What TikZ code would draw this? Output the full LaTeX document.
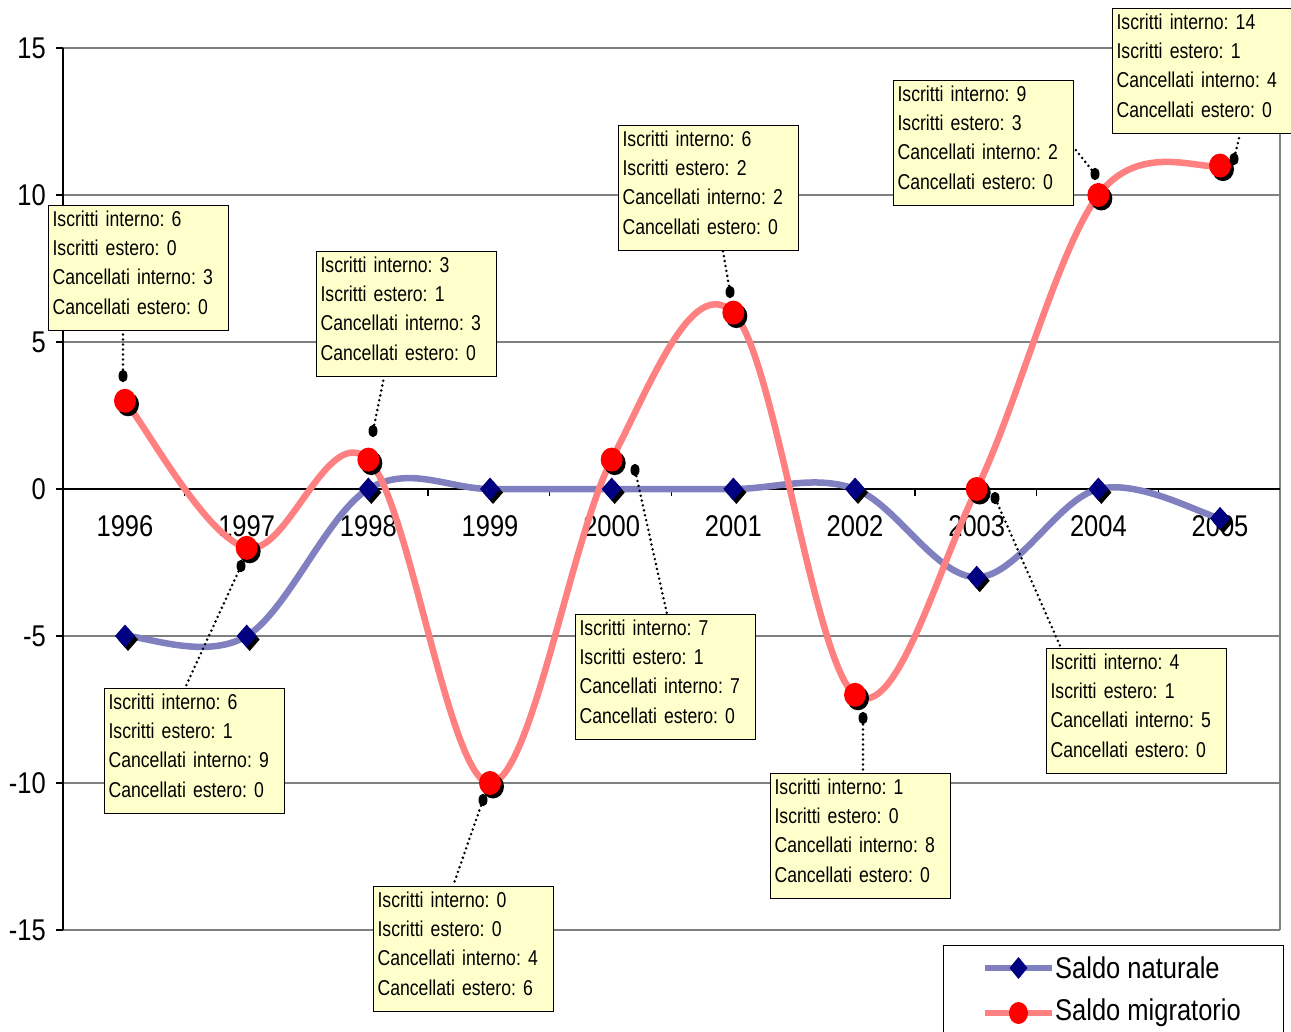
\documentclass[tikz,border=0pt]{standalone}
\usepackage{fontspec}
\setmainfont[FakeStretch=0.85]{Liberation Sans}
\newfontfamily\boxfam[FakeStretch=0.82]{Liberation Sans}
\usetikzlibrary{shapes.geometric,calc}
\definecolor{serblue}{RGB}{128,128,192}
\definecolor{serred}{RGB}{255,128,128}
\definecolor{navymark}{RGB}{0,0,128}
\definecolor{boxyellow}{RGB}{255,255,204}
\definecolor{gridgray}{RGB}{128,128,128}
\newcommand\diamk[1]{%
  \fill[black] ($(#1)+(3pt,-3.5pt)$) +(-10pt,0) -- +(0,11.5pt) -- +(10pt,0) -- +(0,-11.5pt) -- cycle;
  \fill[navymark] (#1) +(-10pt,0) -- +(0,11.5pt) -- +(10pt,0) -- +(0,-11.5pt) -- cycle;}
\newcommand\circmk[1]{%
  \fill[black] ($(#1)+(3pt,-3.5pt)$) ellipse [x radius=11pt, y radius=12pt];
  \fill[red] (#1) ellipse [x radius=11pt, y radius=12pt];}
\newcommand\lastline{\rule[-11pt]{0pt}{11pt}}
\tikzset{
  lab/.style={draw=black, line width=1.1pt, fill=boxyellow, anchor=north west,
    text width=172pt, inner xsep=4pt, inner ysep=0pt, minimum height=125pt, align=left,
    font=\boxfam\fontsize{21.5}{29.3}\selectfont\frenchspacing},
  leaderdot/.style={ellipse, fill=black, minimum width=9pt, minimum height=12.5pt, inner sep=0pt},
  leader/.style={black, line width=2.8pt, line cap=round, dash pattern=on 0pt off 5pt},
  axlab/.style={font=\fontsize{30}{34}\selectfont, inner sep=0pt},
  leglab/.style={font=\fontsize{30}{34}\selectfont, inner sep=0pt, anchor=west},
  gridline/.style={gridgray, line width=1.3pt},
  axisline/.style={black, line width=1.3pt},
  serline/.style={line width=6.5pt}
}
\begin{document}
\begin{tikzpicture}[x=1pt,y=-1pt]
\clip (0,0) rectangle (1291,1032);
\useasboundingbox (0,0) rectangle (1291,1032);
\fill[white] (0,0) rectangle (1291,1032);
% grid and frame
\foreach \yy in {48,195,342,636,783,930} \draw[gridline] (63,\yy) -- (1280,\yy);
\draw[gridline] (1280,48) -- (1280,930);
\foreach \yy in {48,195,342,489,636,783,930} \draw[axisline] (56,\yy) -- (63,\yy);
\draw[axisline] (63,48) -- (63,930);
\draw[axisline] (63,489) -- (1280,489);
\foreach \k in {1,...,9} \draw[axisline] ({63+121.7*\k},489) -- ++(0,7);
% y labels
\node[axlab, anchor=east] (y15) at (46,48) {15};
\node[axlab, anchor=east] (y10) at (46,195) {10};
\node[axlab, anchor=east] (y5) at (46,342) {5};
\node[axlab, anchor=east] (y0) at (46,489) {0};
\node[axlab, anchor=east] (ym5) at (46,636) {-5};
\node[axlab, anchor=east] (ym10) at (46,783) {-10};
\node[axlab, anchor=east] (ym15) at (46,930) {-15};
% x labels
\foreach \yr [count=\i from 0] in {1996,...,2005}
  \node[axlab] (x\yr) at ({125+121.67*\i},526) {\yr};
% series
\begin{scope}[shift={(125,489)}, x=121.67pt, y=29.4pt]
  \foreach \i/\v in {0/-5,1/-5,2/0,3/0,4/0,5/0,6/0,7/-3,8/0,9/-1} \coordinate (n\i) at (\i,\v);
  \foreach \i/\v in {0/3,1/-2,2/1,3/-10,4/1,5/6,6/-7,7/0,8/10,9/11} \coordinate (m\i) at (\i,\v);
  \draw[serblue, serline] (n0) .. controls (0.1667,-5) and (0.6667,-5.8333) .. (n1)
    .. controls (1.3333,-4.1667) and (1.6667,-0.8333) .. (n2)
    .. controls (2.3333,0.8333) and (2.6667,0) .. (n3)
    .. controls (3.3333,0) and (3.6667,0) .. (n4)
    .. controls (4.3333,0) and (4.6667,0) .. (n5)
    .. controls (5.3333,0) and (5.6667,0.5) .. (n6)
    .. controls (6.3333,-0.5) and (6.6667,-3) .. (n7)
    .. controls (7.3333,-3) and (7.6667,-0.3333) .. (n8)
    .. controls (8.3333,0.3333) and (8.8333,-0.8333) .. (n9);
  \draw[serred, serline] (m0) .. controls (0.1667,2.1667) and (0.6667,-1.6667) .. (m1)
    .. controls (1.3333,-2.3333) and (1.6667,2.3333) .. (m2)
    .. controls (2.3333,-0.3333) and (2.6667,-10) .. (m3)
    .. controls (3.3333,-10) and (3.6667,-1.6667) .. (m4)
    .. controls (4.3333,3.6667) and (4.6667,7.3333) .. (m5)
    .. controls (5.3333,4.6667) and (5.6667,-6) .. (m6)
    .. controls (6.3333,-8) and (6.6667,-2.8333) .. (m7)
    .. controls (7.3333,2.8333) and (7.6667,8.1667) .. (m8)
    .. controls (8.3333,11.8333) and (8.8333,10.8333) .. (m9);
\end{scope}
\foreach \i in {0,...,9} {\diamk{n\i}}
\foreach \i in {0,...,9} {\circmk{m\i}}
% leader dots
\node[leaderdot] (d1996) at (123,376) {};
\node[leaderdot] (d1997) at (241,566) {};
\node[leaderdot] (d1998) at (373,431) {};
\node[leaderdot] (d1999) at (483,800) {};
\node[leaderdot] (d2000) at (635,470) {};
\node[leaderdot] (d2001) at (730,292) {};
\node[leaderdot] (d2002) at (863,718) {};
\node[leaderdot] (d2003) at (995,498) {};
\node[leaderdot] (d2004) at (1095,174) {};
\node[leaderdot] (d2005) at (1234,159) {};
% label boxes
\node[lab] (b1996) at (48,205) {Iscritti interno: 6\\Iscritti estero: 0\\Cancellati interno: 3\\Cancellati estero: 0\lastline};
\node[lab] (b1997) at (104,688) {Iscritti interno: 6\\Iscritti estero: 1\\Cancellati interno: 9\\Cancellati estero: 0\lastline};
\node[lab] (b1998) at (316,251) {Iscritti interno: 3\\Iscritti estero: 1\\Cancellati interno: 3\\Cancellati estero: 0\lastline};
\node[lab] (b1999) at (373,886) {Iscritti interno: 0\\Iscritti estero: 0\\Cancellati interno: 4\\Cancellati estero: 6\lastline};
\node[lab] (b2000) at (575,614) {Iscritti interno: 7\\Iscritti estero: 1\\Cancellati interno: 7\\Cancellati estero: 0\lastline};
\node[lab] (b2001) at (618,125) {Iscritti interno: 6\\Iscritti estero: 2\\Cancellati interno: 2\\Cancellati estero: 0\lastline};
\node[lab] (b2002) at (770,773) {Iscritti interno: 1\\Iscritti estero: 0\\Cancellati interno: 8\\Cancellati estero: 0\lastline};
\node[lab] (b2003) at (1046,648) {Iscritti interno: 4\\Iscritti estero: 1\\Cancellati interno: 5\\Cancellati estero: 0\lastline};
\node[lab] (b2004) at (893,80) {Iscritti interno: 9\\Iscritti estero: 3\\Cancellati interno: 2\\Cancellati estero: 0\lastline};
\node[lab] (b2005) at (1112,8) {Iscritti interno: 14\\Iscritti estero: 1\\Cancellati interno: 4\\Cancellati estero: 0\lastline};
% leaders
\draw[leader] (d1996) -- (b1996.south -| d1996);
\draw[leader] (d1997) -- ($(b1997.north west)+(81pt,0)$);
\draw[leader] (d1998) -- ($(b1998.south west)+(68pt,0)$);
\draw[leader] (d1999) -- ($(b1999.north west)+(80pt,0)$);
\draw[leader] (d2000) -- ($(b2000.north west)+(92pt,0)$);
\draw[leader] (d2001) -- ($(b2001.south west)+(105pt,0)$);
\draw[leader] (d2002) -- (b2002.north -| d2002);
\draw[leader] (d2003) -- ($(b2003.north west)+(15pt,0)$);
\draw[leader] (d2004) -- ($(b2004.north east)+(0,-68pt)$);
\draw[leader] (d2005) -- ($(b2005.south west)+(128pt,0)$);
% legend
\node[draw=black, line width=1.1pt, fill=white, anchor=north west, minimum width=340pt, minimum height=110pt, inner sep=0pt] (legend) at (943,945) {};
\coordinate (lna) at (985,968);
\coordinate (lnb) at (1052,968);
\coordinate (lnc) at (1018.5,968);
\coordinate (lma) at (985,1013);
\coordinate (lmb) at (1052,1013);
\coordinate (lmc) at (1018.5,1013);
\draw[serblue, serline] (lna) -- (lnb);
\fill[navymark] (lnc) +(-9pt,0) -- +(0,11pt) -- +(9pt,0) -- +(0,-11pt) -- cycle;
\draw[serred, serline] (lma) -- (lmb);
\fill[red] (lmc) ellipse [x radius=9.5pt, y radius=11pt];
\node[leglab] (legnat) at (1055,968) {Saldo naturale};
\node[leglab] (legmig) at (1055,1013) {Saldo migratorio};
\end{tikzpicture}
\end{document}
